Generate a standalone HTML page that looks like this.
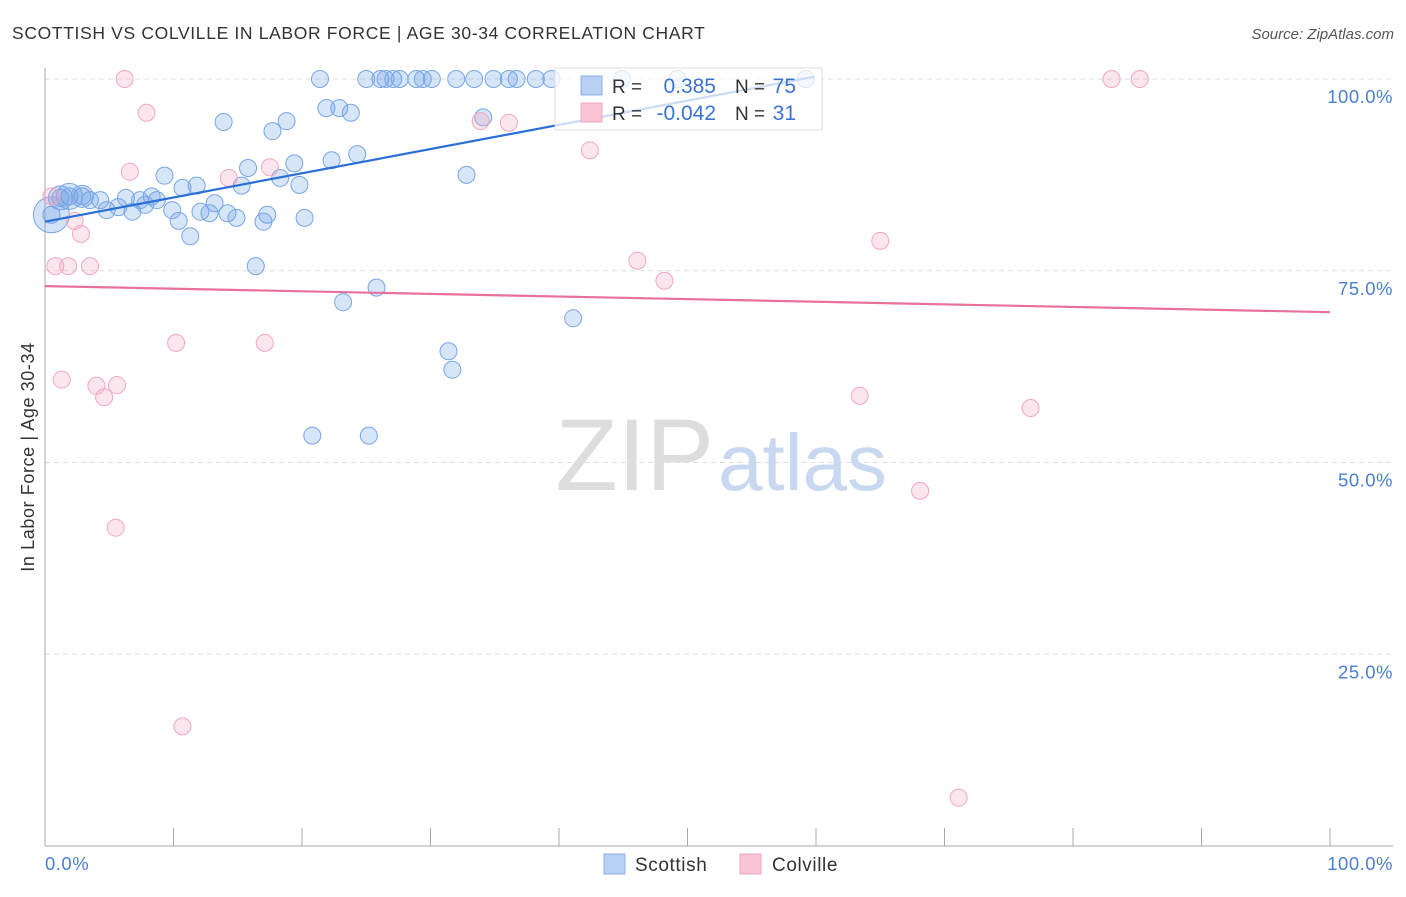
<!DOCTYPE html>
<html><head><meta charset="utf-8"><style>
body{margin:0;background:#fff;font-family:"Liberation Sans",sans-serif;}
svg text{font-family:"Liberation Sans",sans-serif;}
</style></head><body>
<svg id="chart" width="1406" height="892" viewBox="0 0 1406 892" xmlns="http://www.w3.org/2000/svg">
<text x="12" y="39" font-size="17.5" letter-spacing="0.65" fill="#333">SCOTTISH VS COLVILLE IN LABOR FORCE | AGE 30-34 CORRELATION CHART</text>
<text x="1394" y="39" font-size="15" fill="#555" font-style="italic" text-anchor="end">Source: ZipAtlas.com</text>
<g id="grid"></g>
<text x="714" y="490" font-size="102" fill="#ddd" text-anchor="end" font-family="Liberation Serif,serif">ZIP</text>
<text x="718" y="490" font-size="80" fill="#c8d8f0">atlas</text>
<g id="marks"></g>
<text transform="translate(34,457) rotate(-90)" font-size="18" letter-spacing="0.6" fill="#333" text-anchor="middle">In Labor Force | Age 30-34</text>
<text x="45" y="870" font-size="18.5" letter-spacing="0.5" fill="#4a7fd4">0.0%</text>
<text x="1393" y="870" font-size="18.5" letter-spacing="0.5" fill="#4a7fd4" text-anchor="end">100.0%</text>
<g>
<rect x="555" y="68" width="267" height="62" fill="#fff" fill-opacity="0.75" stroke="#ddd"/>
<rect x="581" y="76" width="21" height="19" fill="#b8d0f4" stroke="#8ab0e8"/>
<rect x="581" y="103" width="21" height="19" fill="#f9c5d4" stroke="#f0a8bd"/>
<text x="612" y="93" font-size="19" fill="#333">R =</text>
<text x="716" y="93" font-size="21" fill="#3a74d0" text-anchor="end">0.385</text>
<text x="735" y="93" font-size="19" fill="#333">N =</text>
<text x="796" y="93" font-size="21" fill="#3a74d0" text-anchor="end">75</text>
<text x="612" y="120" font-size="19" fill="#333">R =</text>
<text x="716" y="120" font-size="21" fill="#3a74d0" text-anchor="end">-0.042</text>
<text x="735" y="120" font-size="19" fill="#333">N =</text>
<text x="796" y="120" font-size="21" fill="#3a74d0" text-anchor="end">31</text>
</g>
<g>
<rect x="604" y="854" width="21" height="20" fill="#b8d0f4" stroke="#8ab0e8"/>
<text x="635" y="871" font-size="19" letter-spacing="0.6" fill="#333">Scottish</text></g>
<g>
<rect x="740" y="854" width="21" height="20" fill="#f9c5d4" stroke="#f0a8bd"/>
<text x="772" y="871" font-size="19" letter-spacing="0.6" fill="#333">Colville</text></g>
</svg>
<script>
const blueX=[21.4,25.0,26.1,26.5,27.1,27.6,28.9,29.4,30.1,32.0,33.4,34.9,36.1,36.7,38.2,39.4,44.9,49.2,59.2,
21.9,22.9,23.8,13.9,18.8,17.7,34.1,24.3,22.3,19.4,15.8,9.3,18.3,11.8,10.7,15.3,19.8,32.8,6.3,8.3,8.7,7.4,4.3,3.5,1.9,1.2,2.9,0.5,7.8,5.7,4.8,6.8,9.9,12.1,12.8,13.2,14.2,14.9,17.3,17.0,20.2,10.4,11.3,16.4,25.8,23.2,41.1,31.4,31.7,20.8,25.2];
const blueY=[100,100,100,100,100,100,100,100,100,100,100,100,100,100,100,100,100,100,100,
96.2,96.2,95.6,94.4,94.5,93.2,95.0,90.2,89.4,89.0,88.4,87.4,87.1,86.1,85.8,86.1,86.2,87.5,84.5,84.7,84.2,84.2,84.2,84.2,84.7,84.5,84.7,82.3,83.6,83.3,82.9,82.7,82.9,82.7,82.5,83.8,82.5,81.9,82.3,81.4,81.9,81.5,79.5,75.6,72.8,70.9,68.8,64.5,62.1,53.5,53.5];
const blueBig=[[1.9,84.7,13],[1.2,84.5,12],[2.9,84.7,11],[0.5,82.3,18]];
const pinkX=[6.2,7.9,6.6,14.3,17.5,33.9,36.1,42.4,0.5,2.3,2.8,0.8,1.8,3.5,46.1,48.2,65.0,10.2,17.1,1.3,4.0,5.6,4.6,63.4,76.7,68.1,5.5,10.7,71.1,83.0,85.2];
const pinkY=[100,95.6,87.9,87.1,88.5,94.5,94.3,90.7,84.7,81.5,79.8,75.6,75.6,75.6,76.3,73.7,78.9,65.6,65.6,60.8,60.0,60.1,58.5,58.7,57.1,46.3,41.5,15.6,6.3,100,100];
const blueTrend=[[0,81.4],[59.9,100.3]];
const pinkTrend=[[0,73.0],[100,69.6]];
const yTicks=[100,75,50,25];
const yTickLabels=["100.0%","75.0%","50.0%","25.0%"];
const xTicks=[0,10,20,30,40,50,60,70,80,90,100];

const NS="http://www.w3.org/2000/svg";
const sx=v=>45+v*12.85, sy=v=>846-v*7.67;
function mk(t,a,p){const e=document.createElementNS(NS,t);for(const k in a)e.setAttribute(k,a[k]);p.appendChild(e);return e;}
const grid=document.getElementById('grid'),marks=document.getElementById('marks');
yTicks.forEach((t,i)=>{
 const l=mk('line',{x1:45,x2:1393,y1:sy(t),y2:sy(t),stroke:'#ddd','stroke-dasharray':'5,4'},grid);
 
 
 const tx=mk('text',{x:1393,y:sy(t)+24,'font-size':18.5,'letter-spacing':0.5,fill:'#4a7fd4','text-anchor':'end'},grid);
 tx.textContent=yTickLabels[i];
 
 
});
const ya=mk('line',{x1:45,x2:45,y1:68,y2:846,stroke:'#aaa'},grid);


const xa=mk('line',{x1:45,x2:1393,y1:846,y2:846,stroke:'#aaa'},grid);


xTicks.forEach(t=>{
 const l=mk('line',{x1:sx(t),x2:sx(t),y1:828,y2:846,stroke:'#aaa'},grid);
 
 
});
blueX.forEach((x,i)=>{
 const c=mk('circle',{cx:sx(x),cy:sy(blueY[i]),r:8.5,fill:'rgba(110,160,230,0.28)',stroke:'#78a6e4','stroke-width':1},marks);
 
 
});
blueBig.forEach(b=>{
 const c=mk('circle',{cx:sx(b[0]),cy:sy(b[1]),r:b[2],fill:'rgba(110,160,230,0.3)',stroke:'#78a6e4'},marks);
 
 
});
pinkX.forEach((x,i)=>{
 const c=mk('circle',{cx:sx(x),cy:sy(pinkY[i]),r:8.5,fill:'rgba(245,165,190,0.28)',stroke:'#f0a8be','stroke-width':1},marks);
 
 
});
const bt=mk('line',{x1:sx(blueTrend[0][0]),y1:sy(blueTrend[0][1]),x2:sx(blueTrend[1][0]),y2:sy(blueTrend[1][1]),stroke:'#2a6fd6','stroke-width':2.2},marks);


const pt=mk('line',{x1:sx(pinkTrend[0][0]),y1:sy(pinkTrend[0][1]),x2:sx(pinkTrend[1][0]),y2:sy(pinkTrend[1][1]),stroke:'#e8709a','stroke-width':2.2},marks);


</script>
</body></html>
